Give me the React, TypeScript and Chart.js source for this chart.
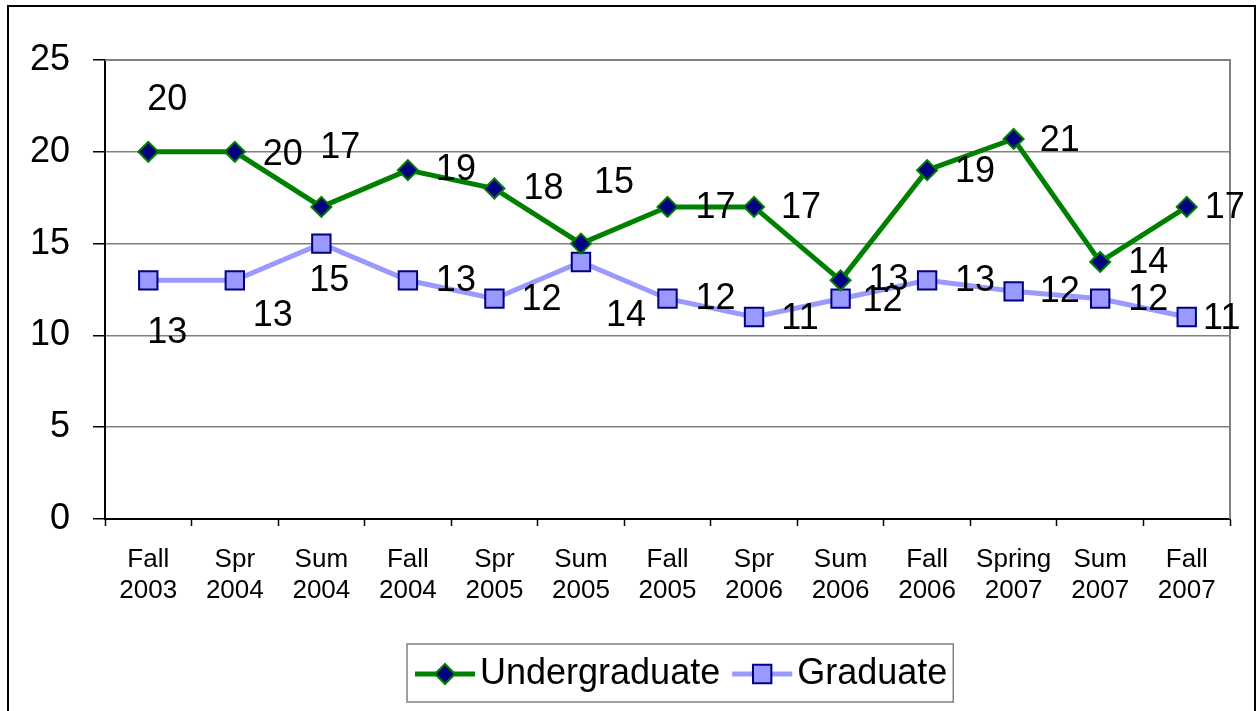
import React, { useEffect, useRef } from 'react';
import { Chart, registerables } from 'chart.js';

Chart.register(...registerables);

const FONT = '"Liberation Sans", Arial, Helvetica, sans-serif';

const categories: string[][] = [
  ['Fall', '2003'], ['Spr', '2004'], ['Sum', '2004'], ['Fall', '2004'], ['Spr', '2005'],
  ['Sum', '2005'], ['Fall', '2005'], ['Spr', '2006'], ['Sum', '2006'], ['Fall', '2006'],
  ['Spring', '2007'], ['Sum', '2007'], ['Fall', '2007'],
];
const undergraduate = [20, 20, 17, 19, 18, 15, 17, 17, 13, 19, 20.7, 14, 17];
const graduate = [13, 13, 15, 13, 12, 14, 12, 11, 12, 13, 12.4, 12, 11];
const yTicks = [0, 5, 10, 15, 20, 25];

// label placement hints (pixel offset of label centre from its point)
const undergradLabelOffsets = [[19, -52], [48, 3], [19, -59], [48, 0], [49, 1], [33, -61], [48, 1], [47, 1], [48, 0], [48, 2], [46, 2], [48, 1], [38, 1]];
const gradLabelOffsets = [[19, 53], [38, 36], [8, 37], [48, 1], [47, 1], [45, 54], [48, 0], [46, 2], [42, 2], [48, 1], [46, 1], [48, 1], [35, 2]];

const GREEN = '#008000';
const NAVY = '#000080';
const LAVENDER = '#9999FF';

const framePlugin = {
  id: 'frame',
  beforeDraw(chart: any) {
    const ctx = chart.ctx;
    ctx.save();
    ctx.fillStyle = '#fff';
    ctx.fillRect(0, 0, chart.width, chart.height);
    ctx.strokeStyle = '#000';
    ctx.lineWidth = 2;
    ctx.strokeRect(8, 6, 1247, 740);
    ctx.restore();
  },
  beforeDatasetsDraw(chart: any) {
    const { ctx, chartArea } = chart;
    ctx.save();
    ctx.strokeStyle = '#808080';
    ctx.lineWidth = 2;
    ctx.beginPath();
    ctx.moveTo(chartArea.left, chartArea.top);
    ctx.lineTo(chartArea.right, chartArea.top);
    ctx.lineTo(chartArea.right, chartArea.bottom);
    ctx.stroke();
    ctx.restore();
  },
};

const labelPlugin = {
  id: 'valueLabels',
  afterDatasetsDraw(chart: any) {
    const ctx = chart.ctx;
    const offsets = [undergradLabelOffsets, gradLabelOffsets];
    ctx.save();
    ctx.font = `36px ${FONT}`;
    ctx.fillStyle = '#000';
    ctx.textAlign = 'center';
    ctx.textBaseline = 'middle';
    chart.data.datasets.forEach((ds: any, di: number) => {
      const meta = chart.getDatasetMeta(di);
      meta.data.forEach((pt: any, i: number) => {
        const v = ds.data[i] as number;
        const [dx, dy] = offsets[di][i];
        ctx.fillText(String(Math.round(v)), pt.x + dx, pt.y + dy);
      });
    });
    ctx.restore();
  },
};

function drawMarker(ctx: CanvasRenderingContext2D, style: string, x: number, y: number, r: number, fill: string, stroke: string, bw: number) {
  ctx.beginPath();
  if (style === 'rectRot') {
    ctx.moveTo(x - r, y);
    ctx.lineTo(x, y - r);
    ctx.lineTo(x + r, y);
    ctx.lineTo(x, y + r);
    ctx.closePath();
  } else {
    const s = Math.SQRT1_2 * r;
    ctx.rect(x - s, y - s, 2 * s, 2 * s);
  }
  ctx.fillStyle = fill;
  ctx.fill();
  ctx.lineWidth = bw;
  ctx.strokeStyle = stroke;
  ctx.stroke();
}

const legendPlugin = {
  id: 'boxLegend',
  afterDraw(chart: any) {
    const ctx = chart.ctx;
    ctx.save();
    ctx.font = `36px ${FONT}`;
    const boxLeft = 407, boxTop = 644, boxH = 58;
    const sampleW = 60, gap = 5, itemGap = 12, padL = 8, padR = 6;
    const items = chart.data.datasets.map((ds: any) => ({ ds, tw: ctx.measureText(ds.label).width }));
    const total = padL + items.reduce((s: number, it: any) => s + sampleW + gap + it.tw, 0) + itemGap * (items.length - 1) + padR;
    ctx.strokeStyle = '#808080';
    ctx.lineWidth = 1.5;
    ctx.strokeRect(boxLeft, boxTop, total, boxH);
    const cy = boxTop + boxH / 2 + 1;
    let x = boxLeft + padL;
    items.forEach((it: any) => {
      const ds = it.ds;
      ctx.strokeStyle = ds.borderColor;
      ctx.lineWidth = ds.borderWidth;
      ctx.beginPath();
      ctx.moveTo(x, cy);
      ctx.lineTo(x + sampleW, cy);
      ctx.stroke();
      drawMarker(ctx, ds.pointStyle, x + sampleW / 2, cy, ds.pointRadius, ds.pointBackgroundColor, ds.pointBorderColor, ds.pointBorderWidth);
      x += sampleW + gap;
      ctx.fillStyle = '#000';
      ctx.textAlign = 'left';
      ctx.textBaseline = 'middle';
      ctx.fillText(ds.label, x, cy);
      x += it.tw + itemGap;
    });
    ctx.restore();
  },
};

export default function App() {
  const ref = useRef<HTMLCanvasElement>(null);
  useEffect(() => {
    if (!ref.current) return;
    const chart = new Chart(ref.current, {
      type: 'line',
      data: {
        labels: categories,
        datasets: [
          {
            label: 'Undergraduate',
            data: undergraduate,
            borderColor: GREEN,
            borderWidth: 5,
            pointStyle: 'rectRot',
            pointRadius: 10,
            pointHoverRadius: 10,
            pointBackgroundColor: NAVY,
            pointBorderColor: GREEN,
            pointBorderWidth: 2,
            tension: 0,
          },
          {
            label: 'Graduate',
            data: graduate,
            borderColor: LAVENDER,
            borderWidth: 5,
            pointStyle: 'rect',
            pointRadius: 13,
            pointHoverRadius: 13,
            pointBackgroundColor: LAVENDER,
            pointBorderColor: NAVY,
            pointBorderWidth: 2,
            tension: 0,
          },
        ],
      },
      options: {
        animation: false,
        responsive: false,
        maintainAspectRatio: false,
        events: [],
        layout: { padding: { top: 60, right: 27, left: 0, bottom: 0 } },
        plugins: {
          legend: { display: false },
          title: { display: false },
          tooltip: { enabled: false },
        },
        scales: {
          x: {
            type: 'category',
            offset: true,
            grid: { display: true, drawOnChartArea: false, offset: true, tickLength: 7, tickColor: '#000', tickWidth: 1.5 },
            border: { color: '#000', width: 2 },
            ticks: {
              autoSkip: false,
              maxRotation: 0,
              minRotation: 0,
              color: '#000',
              padding: 18,
              font: { family: FONT, size: 26, lineHeight: 1.2 },
            },
            afterFit: (s: any) => { s.height = 192; },
          },
          y: {
            min: 0,
            max: 25,
            afterBuildTicks: (s: any) => { s.ticks = yTicks.map((v) => ({ value: v })); },
            grid: { color: '#808080', lineWidth: 1.5, tickLength: 12, tickColor: '#000', tickWidth: 1.5 },
            border: { color: '#000', width: 2 },
            ticks: {
              color: '#000',
              padding: 23,
              font: { family: FONT, size: 36 },
            },
            afterFit: (s: any) => { s.width = 105; },
          },
        },
      },
      plugins: [framePlugin, labelPlugin, legendPlugin],
    });
    return () => chart.destroy();
  }, []);
  return (
    <div style={{ position: 'fixed', left: 0, top: 0, width: 1257, height: 711, background: '#fff' }}>
      <canvas ref={ref} width={1257} height={711} style={{ width: 1257, height: 711, display: 'block' }} />
    </div>
  );
}
